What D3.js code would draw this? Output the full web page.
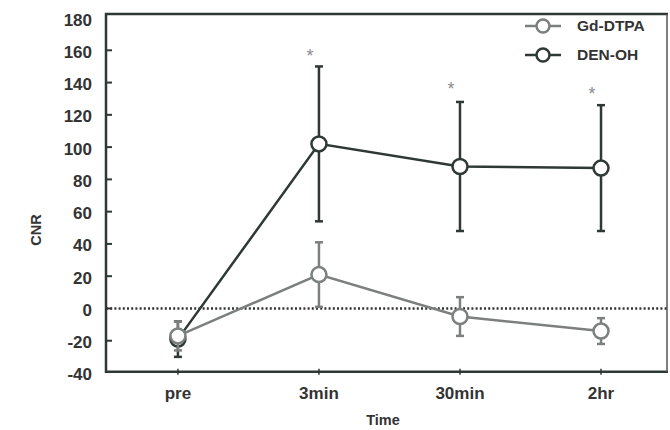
<!DOCTYPE html>
<html>
<head>
<meta charset="utf-8">
<script src="https://cdn.jsdelivr.net/npm/d3@7"></script>
<style>
  body { margin: 0; background: #fff; }
  svg text { font-family: "Liberation Sans", Arial, sans-serif; font-weight: bold; fill: #333; }
</style>
</head>
<body>
<svg id="chart" width="670" height="430"></svg>
<script>
// data
const times = ["pre", "3min", "30min", "2hr"];
const gdMean = [-17, 21, -5, -14];
const gdErr = [9, 20, 12, 8];
const denMean = [-19, 102, 88, 87];
const denErr = [11, 48, 40, 39];
const starVals = [null, 158, 137, 134];
const yTicks = [-40, -20, 0, 20, 40, 60, 80, 100, 120, 140, 160, 180];
const seriesNames = ["Gd-DTPA", "DEN-OH"];

const gdColor = "#7b807e";
const denColor = "#2e3834";

let svg = d3.select("#chart");

let xScale = d3.scaleLinear().domain([-0.51, 3.475]).range([106, 668]);
let yScale = d3.scaleLinear().domain([-40, 182.5]).range([373, 14]);

// frame
let frame = svg.append("g");
frame.append("path")
    .attr("d", `M${xScale.range()[1]},${yScale(182.5)} H${xScale.range()[0]} V${yScale(-39.3)} H${xScale.range()[1]}`)
    .attr("fill", "none").attr("stroke", denColor).attr("stroke-width", 2.5);
frame.append("line")
    .attr("x1", xScale.range()[1] - 1).attr("x2", xScale.range()[1] - 1)
    .attr("y1", yScale(182.5)).attr("y2", yScale(-39.3))
    .attr("stroke", "#555").attr("stroke-width", 1.5);

// y axis ticks (inside) and labels
let yAxis = svg.append("g");
yAxis.selectAll("line").data(yTicks.filter(d => d > -40 && d < 180)).join("line")
    .attr("x1", 106).attr("x2", 112)
    .attr("y1", d => yScale(d)).attr("y2", d => yScale(d))
    .attr("stroke", denColor).attr("stroke-width", 2);
yAxis.selectAll("text").data(yTicks).join("text")
    .attr("x", 92)
    .attr("y", d => yScale(d) + 3)
    .attr("text-anchor", "end")
    .attr("dominant-baseline", "middle")
    .style("font-size", "17px")
    .text(d => d);

// x axis ticks and labels
let xAxis = svg.append("g");
xAxis.selectAll("line").data(times).join("line")
    .attr("x1", (d, i) => xScale(i)).attr("x2", (d, i) => xScale(i))
    .attr("y1", yScale(-39.3) - 3).attr("y2", yScale(-39.3) + 3)
    .attr("stroke", denColor).attr("stroke-width", 1.5);
xAxis.selectAll("text").data(times).join("text")
    .attr("x", (d, i) => xScale(i))
    .attr("y", 395)
    .attr("text-anchor", "middle")
    .attr("dominant-baseline", "middle")
    .style("font-size", "17px")
    .text(d => d);

// axis titles
svg.append("text")
    .attr("transform", "translate(37,230) rotate(-90)")
    .attr("text-anchor", "middle")
    .attr("dominant-baseline", "middle")
    .style("font-size", "14.5px")
    .text("CNR");
svg.append("text")
    .attr("x", 383).attr("y", 421)
    .attr("text-anchor", "middle")
    .attr("dominant-baseline", "middle")
    .style("font-size", "14.5px")
    .text("Time");

// dotted zero line
svg.append("line")
    .attr("x1", xScale.range()[0]).attr("x2", xScale.range()[1])
    .attr("y1", yScale(0)).attr("y2", yScale(0))
    .attr("stroke", "#333").attr("stroke-width", 2.5)
    .attr("stroke-dasharray", "2,2.2");

function drawSeries(means, errs, color) {
    let g = svg.append("g");
    let pts = means.map((m, i) => ({i: i, m: m, e: errs[i]}));
    let line = d3.line().x(d => xScale(d.i)).y(d => yScale(d.m));
    g.append("path").datum(pts)
        .attr("d", line)
        .attr("fill", "none").attr("stroke", color).attr("stroke-width", 2.5);
    let bars = g.selectAll("g.err").data(pts).join("g").attr("class", "err");
    bars.append("line")
        .attr("x1", d => xScale(d.i)).attr("x2", d => xScale(d.i))
        .attr("y1", d => yScale(d.m - d.e)).attr("y2", d => yScale(d.m + d.e))
        .attr("stroke", color).attr("stroke-width", 2.5);
    for (let s of [-1, 1]) {
        bars.append("line")
            .attr("x1", d => xScale(d.i) - 4).attr("x2", d => xScale(d.i) + 4)
            .attr("y1", d => yScale(d.m + s * d.e)).attr("y2", d => yScale(d.m + s * d.e))
            .attr("stroke", color).attr("stroke-width", 2.5);
    }
    g.selectAll("circle").data(pts).join("circle")
        .attr("cx", d => xScale(d.i)).attr("cy", d => yScale(d.m))
        .attr("r", 7.5)
        .attr("fill", "#fff").attr("stroke", color).attr("stroke-width", 2.5);
}

drawSeries(denMean, denErr, denColor);
drawSeries(gdMean, gdErr, gdColor);

// significance stars
svg.append("g").selectAll("text")
    .data(starVals.map((v, i) => ({i: i, v: v})).filter(d => d.v !== null))
    .join("text")
    .attr("x", d => xScale(d.i) - 9)
    .attr("y", d => yScale(d.v) + 8)
    .attr("text-anchor", "middle")
    .style("font-size", "18px")
    .style("font-weight", "normal")
    .style("fill", "#8c8c8c")
    .text("*");

// legend
let legend = svg.append("g");
let legendColors = [gdColor, denColor];
let legendY = [26, 55];
let items = legend.selectAll("g").data(seriesNames).join("g")
    .attr("transform", (d, i) => `translate(0,${legendY[i]})`);
items.append("line")
    .attr("x1", 525).attr("x2", 561).attr("y1", 0).attr("y2", 0)
    .attr("stroke", (d, i) => legendColors[i]).attr("stroke-width", 2.5);
items.append("circle")
    .attr("cx", 543).attr("cy", 0).attr("r", 6.5)
    .attr("fill", "#fff")
    .attr("stroke", (d, i) => legendColors[i]).attr("stroke-width", 2.5);
items.append("text")
    .attr("x", 577).attr("y", 1)
    .attr("dominant-baseline", "middle")
    .style("font-size", "15.5px")
    .text(d => d);
</script>
</body>
</html>
